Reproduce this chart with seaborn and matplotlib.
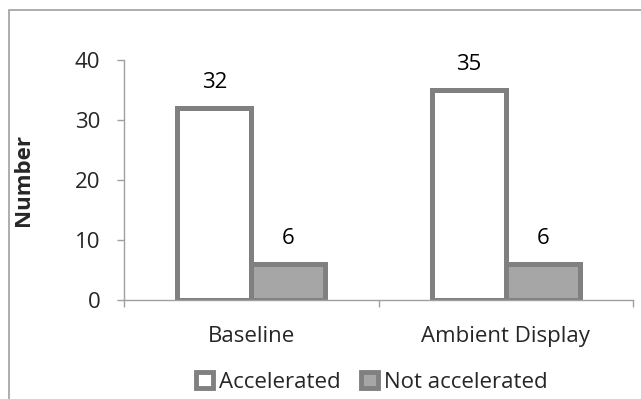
import matplotlib
matplotlib.use("Agg")
import matplotlib.pyplot as plt
import matplotlib.ticker as mticker
import seaborn as sns
import pandas as pd
from matplotlib.patches import Rectangle, Patch

categories = ["Baseline", "Ambient Display"]
series = ["Accelerated", "Not accelerated"]
accelerated = [32, 35]
not_accelerated = [6, 6]
yticks = [0, 10, 20, 30, 40]

df = pd.DataFrame({
    "cat": categories * 2,
    "series": [series[0]] * 2 + [series[1]] * 2,
    "value": accelerated + not_accelerated,
})

sns.set_theme(style="white")
plt.rcParams["font.family"] = ["Open Sans", "DejaVu Sans"]
FS = 16

fig = plt.figure(figsize=(6.41, 3.99), dpi=100)
ax = fig.add_axes([124 / 641, 1 - 300 / 399, (633 - 124) / 641, 240 / 399])

edge = "#808080"
axis_col = "#a0a0a0"
palette = {series[0]: "#ffffff", series[1]: "#a6a6a6"}
sns.barplot(data=df, x="cat", y="value", hue="series", hue_order=series,
            order=categories, palette=palette, width=0.58, ax=ax,
            edgecolor=edge, linewidth=3.6, legend=False, saturation=1)

for cont in ax.containers:
    for bar in cont:
        h = bar.get_height()
        ax.annotate(f"{h:.0f}", (bar.get_x() + bar.get_width() / 2, h),
                    xytext=(0, 18), textcoords="offset points",
                    ha="center", va="center", fontsize=FS, color="black")

ax.set_ylim(0, 40)
ax.set_xlim(-0.5, 1.5)
ax.set_yticks(yticks)
ax.set_yticklabels([str(t) for t in yticks], fontsize=FS)
ax.tick_params(axis="y", length=5, width=1, color=axis_col, direction="out", pad=12, left=True)
ax.set_xticks([0, 1])
ax.set_xticklabels(categories, fontsize=FS)
ax.tick_params(axis="x", length=0, pad=19)
ax.set_xticks([-0.5, 0.5, 1.5], minor=True)
ax.tick_params(axis="x", which="minor", length=5, width=1, color=axis_col,
               direction="out", bottom=True)
ax.xaxis.set_minor_formatter(mticker.NullFormatter())
for s in ["top", "right"]:
    ax.spines[s].set_visible(False)
for s in ["left", "bottom"]:
    ax.spines[s].set_color(axis_col)
    ax.spines[s].set_linewidth(1)
ax.set_xlabel("")
ax.set_ylabel("Number", fontsize=FS, fontweight="bold")
ax.yaxis.set_label_coords((34 - 124) / 509, 0.5)
ax.grid(False)

handles = [Patch(facecolor=palette[s], edgecolor=edge, linewidth=3.5) for s in series]
fig.legend(handles, series, loc="center", bbox_to_anchor=(372 / 641, 1 - 382 / 399),
           ncol=2, frameon=False, fontsize=FS, handlelength=0.75, handleheight=0.75,
           handletextpad=0.3, columnspacing=0.9, borderpad=0, borderaxespad=0)

fig.patches.append(Rectangle((9 / 641, -0.1), 1.2, 1 - 10 / 399 + 0.1,
                             transform=fig.transFigure, fill=False,
                             edgecolor=axis_col, linewidth=1.2))

fig.savefig("out.png", dpi=100)
